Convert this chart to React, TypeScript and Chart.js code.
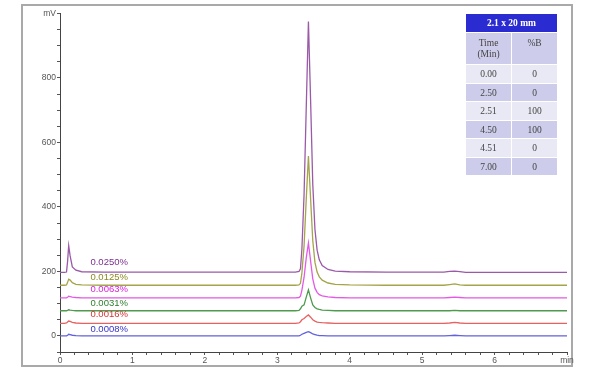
import React, { useEffect, useRef } from "react";
import { Chart, registerables } from "chart.js";

Chart.register(...registerables);

// Retention time (min) sampling shared by all traces
const times = [
  0, 0.06, 0.09, 0.105, 0.12, 0.14, 0.17, 0.22, 0.3, 0.6, 1.0, 1.5, 2.0, 2.5, 3.0,
  3.25, 3.3, 3.32, 3.34, 3.37, 3.4, 3.43, 3.46, 3.49, 3.52, 3.55, 3.58, 3.62, 3.7,
  3.8, 4.0, 4.5, 5.0, 5.3, 5.38, 5.45, 5.52, 5.6, 6.0, 6.5, 7.0,
];

// Signal (mV), each trace offset as in the picture
const trace0250 = [
  197, 197, 198, 232, 280, 248, 214, 204, 199, 198, 198, 198, 198, 198, 198,
  198, 200, 208, 270, 440, 710, 975, 730, 470, 330, 266, 236, 218, 206,
  201, 199, 198, 198, 198, 200, 201, 199, 197, 197, 197, 197,
];
const trace0125 = [
  157, 157, 158, 166, 176, 173, 165, 160, 158, 157, 157, 157, 157, 157, 157,
  157, 158, 163, 195, 280, 425, 558, 425, 295, 228, 198, 183, 173, 164,
  160, 158, 157, 157, 157, 159, 161, 158, 157, 157, 157, 157,
];
const trace0063 = [
  118, 118, 118, 120, 123, 122, 120, 119, 118, 118, 118, 118, 118, 118, 118,
  118, 119, 123, 142, 182, 242, 288, 232, 177, 148, 135, 128, 124, 121,
  119, 118, 118, 118, 118, 119, 120, 119, 118, 118, 118, 118,
];
const trace0031 = [
  78, 78, 78, 79, 81, 80, 79, 78, 78, 78, 78, 78, 78, 78, 78,
  78, 79, 84, 92, 96, 120, 143, 118, 96, 88, 84, 82, 80, 79,
  78, 78, 78, 78, 78, 78, 79, 78, 78, 78, 78, 78,
];
const trace0016 = [
  39, 39, 40, 43, 46, 45, 42, 40, 39, 39, 39, 39, 39, 39, 39,
  39, 40, 44, 50, 54, 60, 65, 58, 50, 46, 43, 42, 41, 40,
  39, 39, 39, 39, 39, 40, 42, 40, 39, 39, 39, 39,
];
const trace0008 = [
  0, 0, 0, 2, 5, 4, 2, 1, 0, 0, 0, 0, 0, 0, 0,
  0, 0, 2, 5, 8, 11, 13, 10, 6, 4, 2, 1, 1, 0,
  0, 0, 0, 0, 0, 1, 2, 1, 0, 0, 0, 0,
];

const seriesNames = ["0.0250%", "0.0125%", "0.0063%", "0.0031%", "0.0016%", "0.0008%"];
const seriesData = [trace0250, trace0125, trace0063, trace0031, trace0016, trace0008];
const seriesColors = ["#9a5aa8", "#a4a44a", "#e45ae4", "#4f9a4f", "#e66262", "#6262dc"];
const labelColors = ["#7a2e8c", "#8a8a22", "#d81ed8", "#2c7f2c", "#d83030", "#3434c8"];
// label anchor (in data units) for each trace name
const labelTime = 0.42;
const labelValues = [227, 181, 145, 100, 66, 19];

// axis settings
const xMin = 0;
const xMax = 7;
const xStep = 0.2;
const xUnit = "min";
const yMin = -50;
const yMax = 1000;
const yStep = 50;
const yLabelEvery = 200;
const yUnit = "mV";

// gradient table
const tableTitle = "2.1 x 20 mm";
const tableHead = ["Time", "(Min)", "%B"];
const gradTime = ["0.00", "2.50", "2.51", "4.50", "4.51", "7.00"];
const gradB = ["0", "0", "100", "100", "0", "0"];

const labelPlugin = {
  id: "traceLabels",
  afterDatasetsDraw(chart: any) {
    const { ctx, scales } = chart;
    const x = scales.x.getPixelForValue(labelTime);
    ctx.save();
    ctx.font = "9.5px 'Liberation Sans', sans-serif";
    ctx.textAlign = "left";
    ctx.textBaseline = "middle";
    seriesNames.forEach((name, i) => {
      ctx.fillStyle = labelColors[i];
      ctx.fillText(name, x, scales.y.getPixelForValue(labelValues[i]));
    });
    ctx.restore();
  },
};

export default function App() {
  const ref = useRef<HTMLCanvasElement | null>(null);

  useEffect(() => {
    if (!ref.current) return;
    const chart = new Chart(ref.current, {
      type: "line",
      data: {
        datasets: seriesNames.map((name, i) => ({
          label: name,
          data: times.map((t, j) => ({ x: t, y: seriesData[i][j] })),
          borderColor: seriesColors[i],
          borderWidth: 1.3,
          pointRadius: 0,
          tension: 0,
          fill: false,
        })),
      },
      options: {
        animation: false,
        responsive: false,
        maintainAspectRatio: false,
        layout: { padding: { left: 0, right: 33, top: 13.5, bottom: 0 } },
        plugins: { legend: { display: false }, tooltip: { enabled: false } },
        scales: {
          x: {
            type: "linear",
            min: xMin,
            max: xMax,
            afterFit: (s: any) => {
              s.height = 19;
            },
            ticks: {
              stepSize: xStep,
              autoSkip: false,
              maxRotation: 0,
              padding: 1,
              color: "#555555",
              font: { size: 8.5, family: "'Liberation Sans', sans-serif" },
              callback: (v: any) => {
                const n = Number(v);
                const r = Math.round(n);
                if (Math.abs(n - r) > 1e-6) return "";
                return r === xMax ? xUnit : String(r);
              },
            },
            grid: { drawOnChartArea: false, drawTicks: true, tickLength: 3, color: "#555" },
            border: { display: true, color: "#444", width: 1 },
          },
          y: {
            type: "linear",
            min: yMin,
            max: yMax,
            afterFit: (s: any) => {
              s.width = 60;
            },
            ticks: {
              stepSize: yStep,
              autoSkip: false,
              padding: 1,
              color: "#555555",
              font: { size: 8.5, family: "'Liberation Sans', sans-serif" },
              callback: (v: any) => {
                const n = Math.round(Number(v));
                if (n === yMax) return yUnit;
                if (n >= 0 && n % yLabelEvery === 0) return String(n);
                return "";
              },
            },
            grid: { drawOnChartArea: false, drawTicks: true, tickLength: 3, color: "#555" },
            border: { display: true, color: "#444", width: 1 },
          },
        },
      },
      plugins: [labelPlugin],
    } as any);
    return () => chart.destroy();
  }, []);

  const cellBase: React.CSSProperties = {
    border: "1px solid #ffffff",
    padding: 0,
    textAlign: "center",
    color: "#444444",
    fontFamily: "'Liberation Serif', 'DejaVu Serif', serif",
    fontSize: "9.5px",
  };

  return (
    <div style={{ position: "absolute", left: 0, top: 0, width: 600, height: 371, background: "#fff" }}>
      <div
        style={{
          position: "absolute",
          left: 21,
          top: 4,
          width: 548,
          height: 359,
          border: "2px solid #a9a9a9",
        }}
      />
      <canvas ref={ref} width={600} height={371} style={{ position: "absolute", left: 0, top: 0 }} />
      <table
        style={{
          position: "absolute",
          left: 465,
          top: 13,
          width: 93,
          borderCollapse: "collapse",
          tableLayout: "fixed",
        }}
      >
        <tbody>
          <tr style={{ height: 19 }}>
            <td
              colSpan={2}
              style={{ ...cellBase, background: "#2b2bd2", color: "#fff", fontWeight: "bold" }}
            >
              {tableTitle}
            </td>
          </tr>
          <tr style={{ height: 32 }}>
            <td style={{ ...cellBase, background: "#cdcdeb", verticalAlign: "top", paddingTop: 5, lineHeight: "11px", width: 46 }}>
              {tableHead[0]}
              <br />
              {tableHead[1]}
            </td>
            <td style={{ ...cellBase, background: "#cdcdeb", verticalAlign: "top", paddingTop: 5, lineHeight: "11px", width: 46 }}>
              {tableHead[2]}
            </td>
          </tr>
          {gradTime.map((t, i) => (
            <tr key={i} style={{ height: i % 2 === 0 ? 19 : 18 }}>
              <td style={{ ...cellBase, background: i % 2 === 0 ? "#e9e9f5" : "#cdcdeb" }}>{t}</td>
              <td style={{ ...cellBase, background: i % 2 === 0 ? "#e9e9f5" : "#cdcdeb" }}>{gradB[i]}</td>
            </tr>
          ))}
        </tbody>
      </table>
    </div>
  );
}
